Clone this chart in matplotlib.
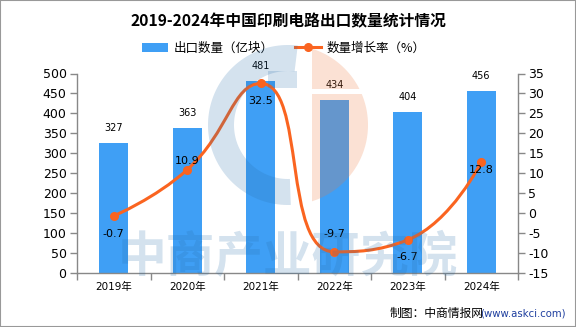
import numpy as np
import matplotlib
matplotlib.use("Agg")
import matplotlib.pyplot as plt
from matplotlib.patches import Patch, Polygon, Rectangle, PathPatch
from matplotlib.lines import Line2D
from matplotlib.path import Path

plt.rcParams['font.family'] = ['DejaVu Sans', 'Noto Sans CJK SC']
plt.rcParams['axes.unicode_minus'] = False

# ---------------- data ----------------
years = ['2019年', '2020年', '2021年', '2022年', '2023年', '2024年']
export_qty = [327, 363, 481, 434, 404, 456]          # 出口数量（亿块）
growth_rate = [-0.7, 10.9, 32.5, -9.7, -6.7, 12.8]   # 数量增长率（%）
left_ticks = list(range(0, 501, 50))
right_ticks = list(range(-15, 36, 5))
title = '2019-2024年中国印刷电路出口数量统计情况'
legend_labels = ['出口数量（亿块）', '数量增长率（%）']

# ---------------- style ----------------
W, H = 576, 327
BAR_C = '#3F9FF5'
LINE_C = '#FA6420'
AX_C = '#888888'
# label offsets in px for growth labels (positive = above)
rate_label_dy = [-18, 9, -18, 18, -17, -8]

fig = plt.figure(figsize=(W / 100, H / 100), dpi=100)
fig.patch.set_facecolor('white')

def fx(x):
    return x / W

def fy(y):
    return 1 - y / H

ax = fig.add_axes([fx(77), fy(273), fx(518) - fx(77), fy(73.5) - fy(273)])
ax2 = ax.twinx()

x = np.arange(len(years))
ax.bar(x, export_qty, width=0.39, color=BAR_C, zorder=2)
ax.set_xlim(-0.5, len(years) - 0.5)
ax.set_ylim(0, 500)
ax.set_yticks(left_ticks)
ax.set_xticks(x)
ax.set_xticklabels(years, fontsize=7.5)
ax.set_xticks(np.arange(-0.5, len(years), 1.0), minor=True)
ax.tick_params(axis='x', which='major', length=0, pad=6.5, colors='black')
ax.tick_params(axis='x', which='minor', length=5, color=AX_C, width=1)
ax.tick_params(axis='y', length=5, color=AX_C, width=1, labelsize=9, pad=2.5)

ax2.set_ylim(-15, 35)
ax2.set_yticks(right_ticks)
ax2.tick_params(axis='y', length=5, color=AX_C, width=1, labelsize=9, pad=2.5)

for a in (ax, ax2):
    a.spines['top'].set_visible(False)
    for s in ('left', 'right', 'bottom'):
        a.spines[s].set_color(AX_C)
        a.spines[s].set_linewidth(1)
    a.set_facecolor('none')
ax.spines['right'].set_visible(False)
ax2.spines['left'].set_visible(False)
ax2.spines['bottom'].set_visible(False)

# bar value labels
for xi, v in zip(x, export_qty):
    ax.annotate(f'{v}', (xi, v), xytext=(0, 15 * 0.72), textcoords='offset points',
                ha='center', va='center', fontsize=7)

# ---------------- smooth line (ECharts style bezier) ----------------
pts = ax2.transData.transform(np.column_stack([x, growth_rate]))
smooth = 0.5
n = len(pts)
verts = [tuple(pts[0])]
codes = [Path.MOVETO]
cp0 = pts[0].copy()
for i in range(1, n):
    p = pts[i]
    prev = pts[i - 1]
    if i < n - 1:
        nxt = pts[i + 1]
        v = nxt - prev
        lp = np.hypot(*(p - prev))
        ln = np.hypot(*(nxt - p))
        r = ln / (ln + lp)
        ncp = p + v * smooth * r
        ncp = np.minimum(ncp, np.maximum(nxt, p))
        ncp = np.maximum(ncp, np.minimum(nxt, p))
        vv = ncp - p
        cp1 = p - vv * lp / ln
        cp1 = np.minimum(cp1, np.maximum(prev, p))
        cp1 = np.maximum(cp1, np.minimum(prev, p))
        vv = p - cp1
        ncp = p + vv * ln / lp
    else:
        cp1 = p.copy()
        ncp = p.copy()
    verts += [tuple(cp0), tuple(cp1), tuple(p)]
    codes += [Path.CURVE4] * 3
    cp0 = ncp
inv = ax2.transData.inverted()
dverts = inv.transform(np.array(verts))
ax2.add_patch(PathPatch(Path(dverts, codes), fill=False, edgecolor=LINE_C,
                        linewidth=2.2, zorder=3, capstyle='round', joinstyle='round'))
ax2.plot(x, growth_rate, linestyle='none', marker='o', markersize=5.5,
         color=LINE_C, zorder=4)
for xi, v, dy in zip(x, growth_rate, rate_label_dy):
    ax2.annotate(f'{v}', (xi, v), xytext=(0, dy * 0.72), textcoords='offset points',
                 ha='center', va='center', fontsize=8, zorder=5)

# ---------------- title & legend ----------------
fig.text(0.5, fy(21.5), title, ha='center', va='center', fontsize=11.3,
         fontweight='bold', family=['Noto Sans CJK SC', 'DejaVu Sans'])
handles = [Patch(facecolor=BAR_C, edgecolor='none'),
           Line2D([0], [0], color=LINE_C, linewidth=2.2, marker='o', markersize=5.5)]
fig.legend(handles, legend_labels, loc='center', bbox_to_anchor=(fx(284), fy(48)),
           ncol=2, frameon=False, fontsize=9, handlelength=2.1, handletextpad=0.45,
           columnspacing=1.7, prop={'family': ['Noto Sans CJK SC', 'DejaVu Sans'], 'size': 9})

# ---------------- watermark / logo ----------------
cx, cy, R = 288, 125, 80
def poly_px(points, **kw):
    pp = [(fx(px), fy(py)) for px, py in points]
    p = Polygon(pp, closed=True, transform=fig.transFigure, zorder=10, **kw)
    fig.add_artist(p)

# blue ring (C)
th = np.radians(np.linspace(83, 272, 80))
outer = [(cx + R * np.cos(t), cy - R * np.sin(t)) for t in th]
inner = [(cx + (R - 26) * np.cos(t), cy - (R - 26) * np.sin(t)) for t in th[::-1]]
poly_px(outer + inner, facecolor='#286EAA', alpha=0.2, edgecolor='none')
poly_px([(268, 71), (297, 71), (297, 88), (268, 88)], facecolor='#286EAA', alpha=0.2,
        edgecolor='none')
# orange half disc with gap
def orange_piece(ytop, ybot):
    ys = np.linspace(ytop, ybot, 60)
    right = [(cx + np.sqrt(max(R ** 2 - (yy - cy) ** 2, 0)), yy) for yy in ys]
    right = [(max(px, 312), py) for px, py in right]
    return right + [(312, ybot), (312, ytop)]
poly_px(orange_piece(cy - np.sqrt(R ** 2 - 24 ** 2), 89), facecolor='#EE783C', alpha=0.22,
        edgecolor='none')
poly_px(orange_piece(94, cy + np.sqrt(R ** 2 - 24 ** 2)), facecolor='#EE783C', alpha=0.22,
        edgecolor='none')

fig.text(fx(288), fy(258), '中商产业研究院', ha='center', va='center', fontsize=35,
         fontweight='bold', color='#286EAA', alpha=0.2, zorder=10,
         family=['Noto Sans CJK SC'])

# ---------------- source ----------------
fig.text(fx(566), fy(313), '(www.askci.com)', ha='right', va='center', fontsize=7.3,
         color='#1F3F9F')
fig.text(fx(484), fy(313), '制图：中商情报网', ha='right', va='center', fontsize=8.5,
         family=['Noto Sans CJK SC', 'DejaVu Sans'])

# border
fig.add_artist(Rectangle((0, 0), 1, 1, transform=fig.transFigure, fill=False,
                         edgecolor='#999999', linewidth=1.5, zorder=20))

fig.savefig('out.png', dpi=100)
